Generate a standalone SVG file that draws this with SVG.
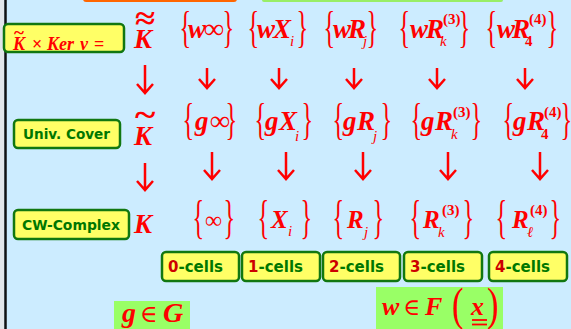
<svg xmlns="http://www.w3.org/2000/svg" width="571" height="329" viewBox="0 0 571 329">
<style>
.m{font-family:"Liberation Serif","DejaVu Serif",serif;font-weight:bold;font-style:italic;fill:#FF0000}
.u{font-family:"Liberation Serif","DejaVu Serif",serif;font-weight:bold;font-style:normal;fill:#FF0000}
.r{font-family:"Liberation Serif","DejaVu Serif",serif;font-weight:normal;font-style:normal;fill:#FF0000}
.br{font-family:"Liberation Serif",serif;font-size:44px;fill:#FF0000}
.sup{font-family:"Liberation Serif",serif;font-weight:bold;font-size:15px;fill:#FF0000}
.sub{font-family:"Liberation Serif",serif;font-style:italic;font-size:15px;fill:#FF0000}
.box{fill:#FFFF66;stroke:#117711;stroke-width:2.5}
.lt{font-family:"DejaVu Sans",sans-serif;font-weight:bold;font-size:14px;fill:#007700}
.ct{font-family:"DejaVu Sans",sans-serif;font-weight:bold;font-size:15px;fill:#007700}
.num{fill:#CC0000}
.gb{fill:#99FF66}
.arr{stroke:#FF0000;stroke-width:2.5;fill:none}
</style>
<rect width="571" height="329" fill="#CCECFF"/>
<rect x="0" y="0" width="4" height="329" fill="#E2E6EA"/>
<line x1="5.5" y1="0" x2="5.5" y2="329" stroke="#111" stroke-width="2.5"/>
<rect x="83" y="-4" width="154" height="6" rx="3" fill="#FF6600"/>
<rect x="262" y="-4" width="241" height="6" rx="2" fill="#99EE66"/>

<g id="label-ker">
<rect class="box" x="4" y="24" width="120" height="28" rx="4"/>
<text class="u" x="14" y="39" font-size="19">~</text>
<text class="m" x="13" y="50" font-size="18">K</text>
<text class="u" x="32" y="50" font-size="18">×</text>
<text class="m" x="47" y="50" font-size="18">Ker</text>
<text class="m" x="80" y="50" font-size="18">ν</text>
<text class="u" x="94" y="50" font-size="18">=</text>
</g>
<g id="label-univ">
<rect class="box" x="14" y="120" width="106" height="28" rx="4"/>
<text class="lt" x="23" y="139" textLength="87" lengthAdjust="spacingAndGlyphs">Univ. Cover</text>
</g>
<g id="label-cw">
<rect class="box" x="14" y="210" width="115" height="29" rx="4"/>
<text class="lt" x="22" y="230" textLength="98" lengthAdjust="spacingAndGlyphs">CW-Complex</text>
</g>

<g id="K-row1">
<text class="u" transform="translate(135,29) scale(1.15,1)" font-size="32">≈</text>
<text class="m" x="134" y="48" font-size="27">K</text>
</g>
<g id="K-row2">
<text class="u" transform="translate(135,126) scale(1.15,1)" font-size="34">~</text>
<text class="m" x="134" y="145" font-size="27">K</text>
</g>
<g id="K-row3">
<text class="m" x="134" y="233" font-size="27">K</text>
</g>

<g id="row1">
<g id="w-inf">
<text class="br" transform="translate(179.6,42) scale(0.55,1)">{</text>
<text class="m" x="188" y="38" font-size="27">w</text>
<text class="u" x="204" y="38" font-size="28">∞</text>
<text class="br" transform="translate(222.6,42) scale(0.55,1)">}</text>
</g>
<g id="w-X">
<text class="br" transform="translate(247.6,42) scale(0.55,1)">{</text>
<text class="m" x="257" y="38" font-size="27">w</text>
<text class="m" x="273" y="38" font-size="27">X</text>
<text class="sub" x="290" y="46">i</text>
<text class="br" transform="translate(296.6,42) scale(0.55,1)">}</text>
</g>
<g id="w-R">
<text class="br" transform="translate(323.6,42) scale(0.55,1)">{</text>
<text class="m" x="333" y="38" font-size="27">w</text>
<text class="m" x="348" y="38" font-size="27">R</text>
<text class="sub" x="363" y="46">j</text>
<text class="br" transform="translate(366.6,42) scale(0.55,1)">}</text>
</g>
<g id="w-R3">
<text class="br" transform="translate(398.6,42) scale(0.55,1)">{</text>
<text class="m" x="410" y="38" font-size="27">w</text>
<text class="m" x="426" y="38" font-size="27">R</text>
<text class="sub" x="440" y="46">k</text>
<text class="sup" x="443" y="24">(3)</text>
<text class="br" transform="translate(458.6,42) scale(0.55,1)">}</text>
</g>
<g id="w-R4">
<text class="br" transform="translate(485.6,42) scale(0.55,1)">{</text>
<text class="m" x="497" y="38" font-size="27">w</text>
<text class="m" x="512" y="38" font-size="27">R</text>
<text class="sup" x="525" y="46">4</text>
<text class="sup" x="529" y="24">(4)</text>
<text class="br" transform="translate(546.6,42) scale(0.55,1)">}</text>
</g>
</g>

<g id="row2">
<g id="g-inf">
<text class="br" transform="translate(182.6,134) scale(0.55,1.02)">{</text>
<text class="m" x="195" y="130" font-size="27">g</text>
<text class="u" x="210" y="130" font-size="28">∞</text>
<text class="br" transform="translate(225.6,134) scale(0.55,1.02)">}</text>
</g>
<g id="g-X">
<text class="br" transform="translate(254.6,134) scale(0.55,1.02)">{</text>
<text class="m" x="265" y="130" font-size="27">g</text>
<text class="m" x="279" y="130" font-size="27">X</text>
<text class="sub" x="295" y="141">i</text>
<text class="br" transform="translate(301.6,134) scale(0.55,1.02)">}</text>
</g>
<g id="g-R">
<text class="br" transform="translate(332.6,134) scale(0.55,1.02)">{</text>
<text class="m" x="343" y="130" font-size="27">g</text>
<text class="m" x="357" y="130" font-size="27">R</text>
<text class="sub" x="373" y="141">j</text>
<text class="br" transform="translate(380.6,134) scale(0.55,1.02)">}</text>
</g>
<g id="g-R3">
<text class="br" transform="translate(410.6,134) scale(0.55,1.02)">{</text>
<text class="m" x="421" y="130" font-size="27">g</text>
<text class="m" x="435" y="130" font-size="27">R</text>
<text class="sub" x="451" y="139">k</text>
<text class="sup" x="453" y="117">(3)</text>
<text class="br" transform="translate(470.6,134) scale(0.55,1.02)">}</text>
</g>
<g id="g-R4">
<text class="br" transform="translate(502.6,134) scale(0.55,1.02)">{</text>
<text class="m" x="513" y="130" font-size="27">g</text>
<text class="m" x="527" y="130" font-size="27">R</text>
<text class="sup" x="541" y="139">4</text>
<text class="sup" x="544" y="117">(4)</text>
<text class="br" transform="translate(560.6,134) scale(0.55,1.02)">}</text>
</g>
</g>

<g id="row3">
<g id="inf">
<text class="br" transform="translate(192.6,233) scale(0.55,1.05)">{</text>
<text class="r" x="205" y="228" font-size="24">∞</text>
<text class="br" transform="translate(223.6,233) scale(0.55,1.05)">}</text>
</g>
<g id="X">
<text class="br" transform="translate(257.6,233) scale(0.55,1.05)">{</text>
<text class="m" x="271" y="228" font-size="25">X</text>
<text class="sub" x="288" y="236">i</text>
<text class="br" transform="translate(300.6,233) scale(0.55,1.05)">}</text>
</g>
<g id="R">
<text class="br" transform="translate(332.6,233) scale(0.55,1.05)">{</text>
<text class="m" x="347" y="228" font-size="25">R</text>
<text class="sub" x="364" y="237">j</text>
<text class="br" transform="translate(372.6,233) scale(0.55,1.05)">}</text>
</g>
<g id="R3">
<text class="br" transform="translate(409.6,233) scale(0.55,1.05)">{</text>
<text class="m" x="423" y="228" font-size="25">R</text>
<text class="sub" x="438" y="237">k</text>
<text class="sup" x="442" y="215">(3)</text>
<text class="br" transform="translate(462.6,233) scale(0.55,1.05)">}</text>
</g>
<g id="R4">
<text class="br" transform="translate(495.6,233) scale(0.55,1.05)">{</text>
<text class="m" x="512" y="228" font-size="25">R</text>
<text class="sub" x="527" y="237">ℓ</text>
<text class="sup" x="530" y="215">(4)</text>
<text class="br" transform="translate(549.6,233) scale(0.55,1.05)">}</text>
</g>
</g>

<g id="connectors">
<path class="arr" d="M145,65 V93 M137,84 L145,93 L153,84"/>
<path class="arr" d="M207,68 V88 M199,79 L207,88 L215,79"/>
<path class="arr" d="M279,68 V88 M271,79 L279,88 L287,79"/>
<path class="arr" d="M354,68 V88 M346,79 L354,88 L362,79"/>
<path class="arr" d="M437,68 V88 M429,79 L437,88 L445,79"/>
<path class="arr" d="M525,68 V88 M517,79 L525,88 L533,79"/>
<path class="arr" d="M145,163 V190 M137,181 L145,190 L153,181"/>
<path class="arr" d="M212,152 V179 M204,170 L212,179 L220,170"/>
<path class="arr" d="M286,152 V179 M278,170 L286,179 L294,170"/>
<path class="arr" d="M363,152 V179 M355,170 L363,179 L371,170"/>
<path class="arr" d="M448,152 V179 M440,170 L448,179 L456,170"/>
<path class="arr" d="M540,152 V179 M532,170 L540,179 L548,170"/>
</g>

<g id="cells0"><rect class="box" x="162" y="252" width="77" height="29" rx="4"/><text class="ct" x="168" y="272" textLength="55" lengthAdjust="spacingAndGlyphs"><tspan class="num">0</tspan>-cells</text></g>
<g id="cells1"><rect class="box" x="242" y="252" width="78" height="29" rx="4"/><text class="ct" x="248" y="272" textLength="55" lengthAdjust="spacingAndGlyphs"><tspan class="num">1</tspan>-cells</text></g>
<g id="cells2"><rect class="box" x="323" y="252" width="77" height="29" rx="4"/><text class="ct" x="329" y="272" textLength="55" lengthAdjust="spacingAndGlyphs"><tspan class="num">2</tspan>-cells</text></g>
<g id="cells3"><rect class="box" x="404" y="252" width="78" height="29" rx="4"/><text class="ct" x="410" y="272" textLength="55" lengthAdjust="spacingAndGlyphs"><tspan class="num">3</tspan>-cells</text></g>
<g id="cells4"><rect class="box" x="489" y="252" width="78" height="29" rx="4"/><text class="ct" x="495" y="272" textLength="55" lengthAdjust="spacingAndGlyphs"><tspan class="num">4</tspan>-cells</text></g>

<g id="gG">
<rect class="gb" x="114" y="301" width="76" height="30"/>
<text class="m" x="122" y="322" font-size="28">g</text>
<text class="r" x="140" y="322" font-size="24">∈</text>
<text class="m" x="163" y="322" font-size="28">G</text>
</g>
<g id="wF">
<rect class="gb" x="376" y="287" width="127" height="44"/>
<text class="m" x="382" y="315" font-size="26">w</text>
<text class="r" x="403" y="315" font-size="23">∈</text>
<text class="m" x="425" y="315" font-size="26">F</text>
<text class="r" transform="translate(452,320) scale(0.75,1)" font-size="46">(</text>
<text class="m" x="471" y="315" font-size="26">x</text>
<line x1="472" y1="320" x2="487" y2="320" stroke="#FF0000" stroke-width="1.8"/>
<line x1="472" y1="324.5" x2="487" y2="324.5" stroke="#FF0000" stroke-width="1.8"/>
<text class="r" transform="translate(487,320) scale(0.75,1)" font-size="46">)</text>
</g>
</svg>
